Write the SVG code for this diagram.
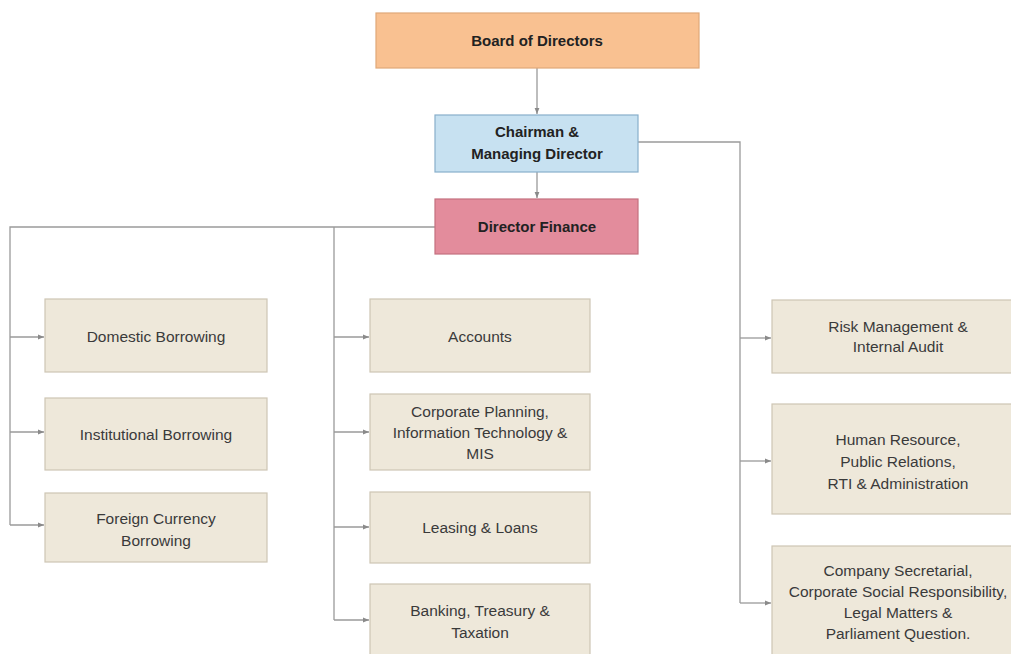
<svg xmlns="http://www.w3.org/2000/svg" width="1011" height="654" viewBox="0 0 1011 654">
<style>
.c{fill:none;stroke:#9a9a9a;stroke-width:1.3}
.box{fill:#EEE8DA;stroke:#CDC5B4;stroke-width:1.2}
.t{font-family:"Liberation Sans",Arial,sans-serif;font-size:15.5px;fill:#3a3a3a;text-anchor:middle}
.b{font-family:"Liberation Sans",Arial,sans-serif;font-size:15px;font-weight:bold;fill:#222;text-anchor:middle}
</style>
<defs>
<marker id="ah" viewBox="0 0 10 10" refX="10" refY="5" markerWidth="6" markerHeight="6" orient="auto" markerUnits="userSpaceOnUse">
<path d="M0,1 L10,5 L0,9 z" fill="#8a8a8a"/>
</marker>
</defs>
<rect width="1011" height="654" fill="#fff"/>
<g id="connectors">
<path class="c" d="M537,68 V114" marker-end="url(#ah)"/>
<path class="c" d="M537,172 V198" marker-end="url(#ah)"/>
<path class="c" d="M638,142 H740 V603"/>
<path class="c" d="M740,338 H771" marker-end="url(#ah)"/>
<path class="c" d="M740,461 H771" marker-end="url(#ah)"/>
<path class="c" d="M740,603 H771" marker-end="url(#ah)"/>
<path class="c" d="M435,227 H10 V525"/>
<path class="c" d="M10,337 H44" marker-end="url(#ah)"/>
<path class="c" d="M10,432 H44" marker-end="url(#ah)"/>
<path class="c" d="M10,525 H44" marker-end="url(#ah)"/>
<path class="c" d="M334,227 V620"/>
<path class="c" d="M334,337 H369" marker-end="url(#ah)"/>
<path class="c" d="M334,432 H369" marker-end="url(#ah)"/>
<path class="c" d="M334,527 H369" marker-end="url(#ah)"/>
<path class="c" d="M334,620 H369" marker-end="url(#ah)"/>
</g>
<g id="board">
<rect x="376" y="13" width="323" height="55" fill="#F9C191" stroke="#E0A878" stroke-width="1.2"/>
<text class="b" x="537" y="46">Board of Directors</text>
</g>
<g id="chairman">
<rect x="435" y="115" width="203" height="57" fill="#C7E1F1" stroke="#88AFCB" stroke-width="1.2"/>
<text class="b" x="537" y="137">Chairman &amp;</text>
<text class="b" x="537" y="159">Managing Director</text>
</g>
<g id="director-finance">
<rect x="435" y="199" width="203" height="55" fill="#E38C9C" stroke="#C4707F" stroke-width="1.2"/>
<text class="b" x="537" y="232">Director Finance</text>
</g>
<g id="domestic">
<rect class="box" x="45" y="299" width="222" height="73"/>
<text class="t" x="156" y="342">Domestic Borrowing</text>
</g>
<g id="institutional">
<rect class="box" x="45" y="398" width="222" height="72"/>
<text class="t" x="156" y="440">Institutional Borrowing</text>
</g>
<g id="foreign">
<rect class="box" x="45" y="493" width="222" height="69"/>
<text class="t" x="156" y="524">Foreign Currency</text>
<text class="t" x="156" y="546">Borrowing</text>
</g>
<g id="accounts">
<rect class="box" x="370" y="299" width="220" height="73"/>
<text class="t" x="480" y="342">Accounts</text>
</g>
<g id="corporate-planning">
<rect class="box" x="370" y="394" width="220" height="76"/>
<text class="t" x="480" y="417">Corporate Planning,</text>
<text class="t" x="480" y="438">Information Technology &amp;</text>
<text class="t" x="480" y="459">MIS</text>
</g>
<g id="leasing">
<rect class="box" x="370" y="492" width="220" height="71"/>
<text class="t" x="480" y="533">Leasing &amp; Loans</text>
</g>
<g id="banking">
<rect class="box" x="370" y="584" width="220" height="80"/>
<text class="t" x="480" y="616">Banking, Treasury &amp;</text>
<text class="t" x="480" y="638">Taxation</text>
</g>
<g id="risk">
<rect class="box" x="772" y="300" width="250" height="73"/>
<text class="t" x="898" y="332">Risk Management &amp;</text>
<text class="t" x="898" y="352">Internal Audit</text>
</g>
<g id="hr">
<rect class="box" x="772" y="404" width="250" height="110"/>
<text class="t" x="898" y="445">Human Resource,</text>
<text class="t" x="898" y="467">Public Relations,</text>
<text class="t" x="898" y="489">RTI &amp; Administration</text>
</g>
<g id="company-secretarial">
<rect class="box" x="772" y="546" width="250" height="120"/>
<text class="t" x="898" y="576">Company Secretarial,</text>
<text class="t" x="898" y="597">Corporate Social Responsibility,</text>
<text class="t" x="898" y="618">Legal Matters &amp;</text>
<text class="t" x="898" y="639">Parliament Question.</text>
</g>
</svg>
